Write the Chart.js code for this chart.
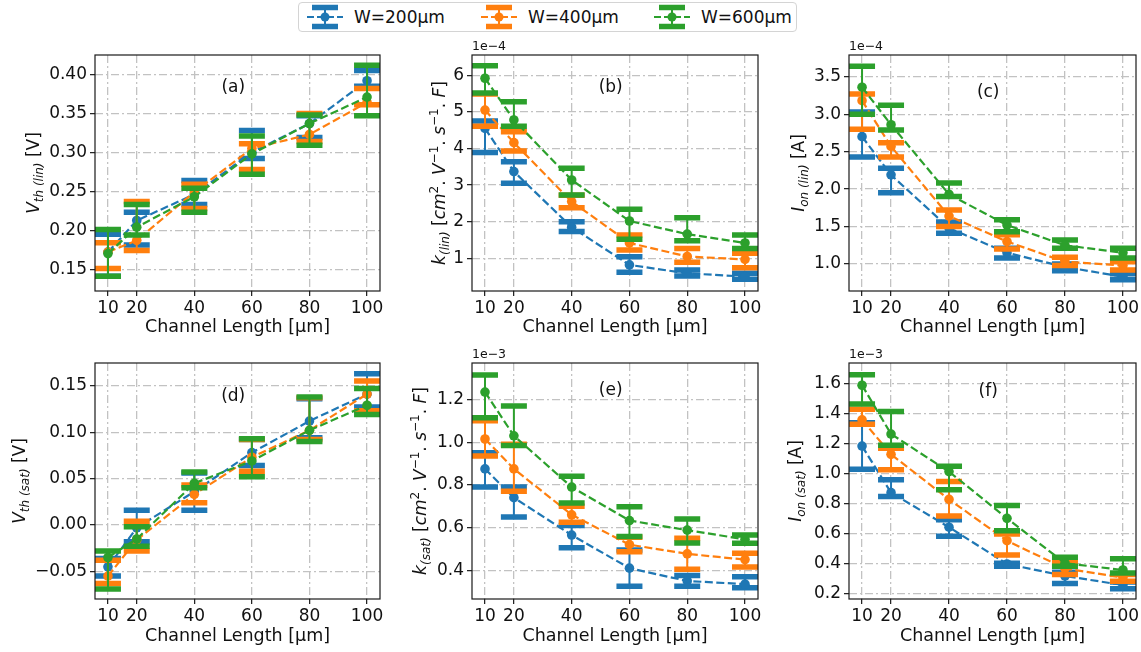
<!DOCTYPE html>
<html>
<head>
<meta charset="utf-8">
<script src="https://cdn.jsdelivr.net/npm/chart.js@4.4.0/dist/chart.umd.min.js"></script>
<style>
  body { margin: 0; width: 1141px; height: 652px; position: relative; overflow: hidden; background: #fff; font-family: "DejaVu Sans", sans-serif; }
  canvas { position: absolute; }
  #legend { position: absolute; left: 298px; top: 2px; width: 497px; height: 28px; border: 1px solid #d4d4d4; border-radius: 4px; background: #fff; }
  #legend svg { position: absolute; top: 0; }
  #legend span { position: absolute; top: 4px; font-size: 17px; color: #111; white-space: nowrap; }
</style>
</head>
<body>
<div id="legend"></div>
<canvas id="pa" width="384" height="309" style="left:0;top:36px"></canvas>
<canvas id="pb" width="378" height="309" style="left:384px;top:36px"></canvas>
<canvas id="pc" width="379" height="309" style="left:762px;top:36px"></canvas>
<canvas id="pd" width="384" height="307" style="left:0;top:345px"></canvas>
<canvas id="pe" width="378" height="307" style="left:384px;top:345px"></canvas>
<canvas id="pf" width="379" height="307" style="left:762px;top:345px"></canvas>
<script>
// data (rows: W=200, W=400, W=600)
const channelLength = [10, 20, 40, 60, 80, 100];
const seriesNames = ['W=200µm', 'W=400µm', 'W=600µm'];
const seriesColors = ['#1f77b4', '#ff7f0e', '#2ca02c'];

// (a) Vth lin [V]
const vthLinMean = [[0.172, 0.2125, 0.246, 0.300, 0.337, 0.392], [0.172, 0.187, 0.249, 0.305, 0.323, 0.364], [0.170, 0.204, 0.243, 0.298, 0.337, 0.371]];
const vthLinLow  = [[0.141, 0.181, 0.233, 0.292, 0.319, 0.385], [0.151, 0.174, 0.228, 0.278, 0.314, 0.361], [0.141, 0.194, 0.223, 0.272, 0.309, 0.347]];
const vthLinHigh = [[0.195, 0.223, 0.264, 0.328, 0.347, 0.405], [0.184, 0.237, 0.259, 0.311, 0.350, 0.382], [0.201, 0.233, 0.254, 0.321, 0.348, 0.412]];

// (b) k lin, units of 1e-4
const kLinMean = [[4.55, 3.37, 1.85, 0.82, 0.59, 0.50], [5.05, 4.16, 2.55, 1.42, 1.05, 0.97], [5.92, 4.78, 3.14, 2.02, 1.66, 1.42]];
const kLinLow  = [[3.89, 3.05, 1.73, 0.62, 0.52, 0.43], [4.61, 3.93, 2.38, 1.23, 0.89, 0.74], [5.52, 4.61, 2.73, 1.52, 1.48, 1.27]];
const kLinHigh = [[4.75, 3.64, 2.00, 1.04, 0.68, 0.59], [5.49, 4.46, 2.72, 1.64, 1.27, 1.14], [6.26, 5.28, 3.46, 2.34, 2.11, 1.64]];

// (c) Ion lin, units of 1e-4 A
const ionLinMean = [[2.70, 2.19, 1.48, 1.15, 0.96, 0.83], [3.18, 2.57, 1.64, 1.30, 1.03, 0.98], [3.36, 2.86, 1.93, 1.52, 1.25, 1.15]];
const ionLinLow  = [[2.43, 1.95, 1.41, 1.08, 0.91, 0.79], [2.80, 2.43, 1.50, 1.20, 0.98, 0.92], [3.00, 2.79, 1.90, 1.43, 1.21, 1.08]];
const ionLinHigh = [[3.03, 2.28, 1.56, 1.21, 1.00, 0.87], [3.27, 2.62, 1.72, 1.39, 1.09, 1.03], [3.64, 3.12, 2.08, 1.59, 1.32, 1.21]];

// (d) Vth sat [V]
const vthSatMean = [[-0.045, -0.003, 0.036, 0.078, 0.112, 0.141], [-0.055, -0.016, 0.033, 0.073, 0.102, 0.141], [-0.035, -0.015, 0.045, 0.069, 0.102, 0.129]];
const vthSatLow  = [[-0.055, -0.018, 0.016, 0.064, 0.094, 0.127], [-0.063, -0.028, 0.024, 0.058, 0.092, 0.123], [-0.069, -0.023, 0.040, 0.052, 0.090, 0.119]];
const vthSatHigh = [[-0.036, 0.016, 0.056, 0.092, 0.136, 0.163], [-0.038, 0.004, 0.043, 0.092, 0.137, 0.155], [-0.028, -0.002, 0.057, 0.093, 0.138, 0.147]];

// (e) k sat, units of 1e-3
const kSatMean = [[0.875, 0.74, 0.565, 0.41, 0.35, 0.335], [1.015, 0.875, 0.66, 0.52, 0.477, 0.45], [1.235, 1.03, 0.79, 0.633, 0.588, 0.545]];
const kSatLow  = [[0.79, 0.65, 0.505, 0.325, 0.325, 0.318], [0.935, 0.77, 0.625, 0.487, 0.405, 0.415], [1.115, 0.985, 0.715, 0.558, 0.528, 0.527]];
const kSatHigh = [[0.95, 0.79, 0.61, 0.495, 0.375, 0.37], [1.10, 0.99, 0.70, 0.555, 0.55, 0.48], [1.315, 1.17, 0.84, 0.698, 0.64, 0.565]];

// (f) Ion sat, units of 1e-3 A
const ionSatMean = [[1.185, 0.875, 0.645, 0.40, 0.32, 0.26], [1.36, 1.13, 0.83, 0.555, 0.37, 0.31], [1.59, 1.265, 1.015, 0.704, 0.405, 0.36]];
const ionSatLow  = [[1.03, 0.85, 0.585, 0.385, 0.27, 0.235], [1.33, 1.027, 0.72, 0.46, 0.33, 0.285], [1.465, 1.19, 0.895, 0.622, 0.385, 0.34]];
const ionSatHigh = [[1.34, 0.96, 0.695, 0.405, 0.345, 0.28], [1.43, 1.17, 0.95, 0.60, 0.41, 0.33], [1.66, 1.415, 1.05, 0.789, 0.445, 0.435]];

// tick labels
const xTicks = [10, 20, 40, 60, 80, 100];
const vthLinTicks = [0.15, 0.20, 0.25, 0.30, 0.35, 0.40];
const kLinTicks = [1, 2, 3, 4, 5, 6];
const ionLinTicks = [1.0, 1.5, 2.0, 2.5, 3.0, 3.5];
const vthSatTicks = [-0.05, 0.00, 0.05, 0.10, 0.15];
const kSatTicks = [0.4, 0.6, 0.8, 1.0, 1.2];
const ionSatTicks = [0.2, 0.4, 0.6, 0.8, 1.0, 1.2, 1.4, 1.6];

const FONT = '"DejaVu Sans", sans-serif';
const kUnits = [['[', 'r'], ['cm', 'i'], ['2', 'p'], ['. ', 'r'], ['V', 'i'], ['−1', 'p'], ['. ', 'r'], ['s', 'i'], ['−1', 'p'], ['. ', 'r'], ['F', 'i'], [']', 'r']];

// legend
const legendBox = document.getElementById('legend');
[7, 181, 354].forEach((lx, i) => {
  const c = seriesColors[i];
  legendBox.insertAdjacentHTML('beforeend',
    `<svg width="38" height="28" style="left:${lx}px" viewBox="0 0 38 28">
      <line x1="1" y1="14" x2="37" y2="14" stroke="${c}" stroke-width="2" stroke-dasharray="7,3"/>
      <line x1="19" y1="4" x2="19" y2="24" stroke="${c}" stroke-width="2"/>
      <line x1="6" y1="4.5" x2="32" y2="4.5" stroke="${c}" stroke-width="5.5"/>
      <line x1="6" y1="23.5" x2="32" y2="23.5" stroke="${c}" stroke-width="5.5"/>
      <circle cx="19" cy="14" r="4.5" fill="${c}"/>
    </svg><span style="left:${lx + 48}px">${seriesNames[i]}</span>`);
});

// error bars drawn after each line so later series sit on top
const errorBars = {
  id: 'errorBars',
  afterDatasetDraw(chart, args) {
    const ds = chart.data.datasets[args.index];
    const { ctx, chartArea, scales: { x, y } } = chart;
    ctx.save();
    ctx.beginPath();
    ctx.rect(chartArea.left, chartArea.top, chartArea.width, chartArea.height);
    ctx.clip();
    ctx.strokeStyle = ds.borderColor;
    ctx.setLineDash([]);
    channelLength.forEach((cl, k) => {
      const px = x.getPixelForValue(cl);
      const yl = y.getPixelForValue(ds.errLow[k]);
      const yh = y.getPixelForValue(ds.errHigh[k]);
      ctx.lineWidth = 2;
      ctx.beginPath(); ctx.moveTo(px, yl); ctx.lineTo(px, yh); ctx.stroke();
      ctx.lineWidth = 5.5;
      ctx.beginPath();
      ctx.moveTo(px - 13, yl); ctx.lineTo(px + 13, yl);
      ctx.moveTo(px - 13, yh); ctx.lineTo(px + 13, yh);
      ctx.stroke();
    });
    // marker again on top of its own bars
    const pts = args.meta.data;
    ctx.fillStyle = ds.borderColor;
    pts.forEach(p => { ctx.beginPath(); ctx.arc(p.x, p.y, 4.8, 0, Math.PI * 2); ctx.fill(); });
    ctx.restore();
  }
};

// frame, y label with sub/superscripts, offset text, panel tag
const decorations = {
  id: 'decorations',
  afterDatasetsDraw(chart) {
    const { ctx, chartArea: a } = chart;
    const o = chart.options.plugins.decorations;
    ctx.save();
    ctx.strokeStyle = '#1a1a1a';
    ctx.lineWidth = 1.2;
    ctx.strokeRect(a.left, a.top, a.width, a.height);
    ctx.fillStyle = '#111';
    ctx.font = `17px ${FONT}`;
    ctx.textAlign = 'center';
    ctx.textBaseline = 'middle';
    ctx.fillText(o.tag, a.left + a.width * 0.485, a.top + a.height * o.tagY);
    if (o.offset) {
      ctx.font = `12.5px ${FONT}`;
      ctx.textAlign = 'left';
      ctx.textBaseline = 'bottom';
      ctx.fillText(o.offset, a.left, a.top - 2);
    }
    // rotated y label
    const fonts = {
      i: `italic 17px ${FONT}`, r: `17px ${FONT}`,
      s: `italic 12px ${FONT}`, p: `12px ${FONT}`
    };
    const shift = { i: 0, r: 0, s: 4, p: -7 };
    let total = 0;
    o.ylabel.forEach(([t, k]) => { ctx.font = fonts[k]; total += ctx.measureText(t).width; });
    ctx.translate(a.left - o.labelDx, (a.top + a.bottom) / 2);
    ctx.rotate(-Math.PI / 2);
    ctx.textAlign = 'left';
    ctx.textBaseline = 'alphabetic';
    let cx = -total / 2;
    o.ylabel.forEach(([t, k]) => {
      ctx.font = fonts[k];
      ctx.fillText(t, cx, 6 + shift[k]);
      cx += ctx.measureText(t).width;
    });
    ctx.restore();
  }
};

function makePanel(p) {
  const datasets = p.mean.map((m, i) => ({
    label: seriesNames[i],
    data: channelLength.map((x, k) => ({ x, y: m[k] })),
    errLow: p.low[i],
    errHigh: p.high[i],
    borderColor: seriesColors[i],
    backgroundColor: seriesColors[i],
    borderWidth: 2.2,
    borderDash: [8, 3.5],
    pointRadius: 0,
    tension: 0,
    order: 3 - i
  }));
  const gridCfg = { color: '#c2c2c2', lineWidth: 1.3, tickLength: 5, tickColor: '#1a1a1a', tickWidth: 1.2 };
  const tickFont = { family: FONT, size: 17 };
  new Chart(document.getElementById(p.id), {
    type: 'line',
    data: { datasets },
    plugins: [errorBars, decorations],
    options: {
      responsive: false,
      animation: false,
      devicePixelRatio: 1,
      layout: { padding: { top: p.padTop, right: p.padRight, left: 0, bottom: 0 } },
      plugins: {
        legend: { display: false },
        tooltip: { enabled: false },
        decorations: { tag: p.tag, tagY: p.tagY, offset: p.offset, ylabel: p.ylabel, labelDx: p.labelDx }
      },
      scales: {
        x: {
          type: 'linear', min: 5.5, max: 104.5,
          afterBuildTicks: ax => { ax.ticks = xTicks.map(v => ({ value: v })); },
          afterFit: ax => { ax.height = p.xHeight; ax.paddingLeft = 0; ax.paddingRight = 0; },
          grid: gridCfg,
          border: { display: false, dash: [8, 3, 2, 3] },
          ticks: { font: tickFont, color: '#111', padding: 2, maxRotation: 0, autoSkip: false },
          title: { display: true, text: 'Channel Length [µm]', font: { family: FONT, size: 17.5 }, color: '#111', padding: { top: 0, bottom: p.titlePad } }
        },
        y: {
          type: 'linear', min: p.yMin, max: p.yMax,
          afterBuildTicks: ax => { ax.ticks = p.yTicks.map(v => ({ value: v })); },
          afterFit: ax => { ax.width = p.yWidth; ax.paddingTop = 0; ax.paddingBottom = 0; },
          grid: gridCfg,
          border: { display: false, dash: [8, 3, 2, 3] },
          ticks: {
            font: tickFont, color: '#111', padding: 3, autoSkip: false,
            callback: v => v.toFixed(p.decimals).replace('-', '−')
          }
        }
      }
    }
  });
}

const topRow = { padTop: 19, xHeight: 54, titlePad: 7 };
const botRow = { padTop: 18, xHeight: 53, titlePad: 5 };

makePanel({ ...topRow, id: 'pa', yWidth: 95, padRight: 4, yMin: 0.122, yMax: 0.425, yTicks: vthLinTicks, decimals: 2,
  mean: vthLinMean, low: vthLinLow, high: vthLinHigh, tag: '(a)', tagY: 0.14, labelDx: 62,
  ylabel: [['V', 'i'], ['th (lin)', 's'], [' [V]', 'r']] });
makePanel({ ...topRow, id: 'pb', yWidth: 88, padRight: 4, yMin: 0.107, yMax: 6.555, yTicks: kLinTicks, decimals: 0,
  mean: kLinMean, low: kLinLow, high: kLinHigh, tag: '(b)', tagY: 0.136, labelDx: 33, offset: '1e−4',
  ylabel: [['k', 'i'], ['(lin)', 's'], [' ', 'r']].concat(kUnits) });
makePanel({ ...topRow, id: 'pc', yWidth: 87, padRight: 5, yMin: 0.64, yMax: 3.79, yTicks: ionLinTicks, decimals: 1,
  mean: ionLinMean, low: ionLinLow, high: ionLinHigh, tag: '(c)', tagY: 0.16, labelDx: 51, offset: '1e−4',
  ylabel: [['I', 'i'], ['on (lin)', 's'], [' [A]', 'r']] });
makePanel({ ...botRow, id: 'pd', yWidth: 95, padRight: 4, yMin: -0.0797, yMax: 0.1745, yTicks: vthSatTicks, decimals: 2,
  mean: vthSatMean, low: vthSatLow, high: vthSatHigh, tag: '(d)', tagY: 0.144, labelDx: 76,
  ylabel: [['V', 'i'], ['th (sat)', 's'], [' [V]', 'r']] });
makePanel({ ...botRow, id: 'pe', yWidth: 88, padRight: 4, yMin: 0.2655, yMax: 1.371, yTicks: kSatTicks, decimals: 1,
  mean: kSatMean, low: kSatLow, high: kSatHigh, tag: '(e)', tagY: 0.118, labelDx: 52, offset: '1e−3',
  ylabel: [['k', 'i'], ['(sat)', 's'], [' ', 'r']].concat(kUnits) });
makePanel({ ...botRow, id: 'pf', yWidth: 87, padRight: 5, yMin: 0.167, yMax: 1.738, yTicks: ionSatTicks, decimals: 1,
  mean: ionSatMean, low: ionSatLow, high: ionSatHigh, tag: '(f)', tagY: 0.12, labelDx: 54, offset: '1e−3',
  ylabel: [['I', 'i'], ['on (sat)', 's'], [' [A]', 'r']] });
</script>
</body>
</html>
